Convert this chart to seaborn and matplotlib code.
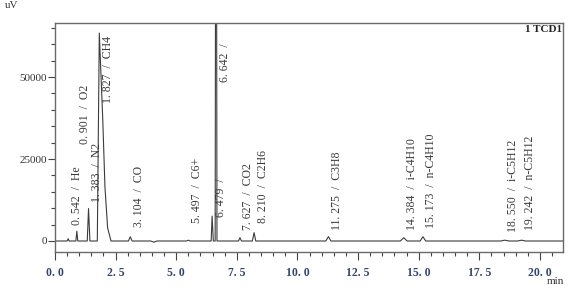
import matplotlib
matplotlib.use("Agg")
import matplotlib.pyplot as plt
import seaborn as sns
import pandas as pd
from matplotlib.ticker import MultipleLocator, FixedLocator

# ---- chromatogram trace (vertices) ----
trace_t = [0.00, 0.50, 0.542, 0.58, 0.86, 0.901, 0.94, 1.33, 1.383, 1.44,
           1.745, 1.827, 1.97, 2.06, 2.17, 2.31,
           3.03, 3.104, 3.18, 3.95, 4.08, 4.20,
           5.42, 5.497, 5.57, 6.44, 6.479, 6.53, 6.605, 6.642, 6.68,
           7.57, 7.627, 7.69, 8.14, 8.210, 8.28,
           11.17, 11.275, 11.38, 14.24, 14.384, 14.52, 15.06, 15.173, 15.29,
           18.38, 18.550, 18.72, 19.08, 19.242, 19.40, 21.0]
trace_uv = [0, 0, 700, 0, 0, 3000, 0, 0, 9900, 0,
            0, 63400, 36900, 16500, 4000, 0,
            0, 1300, 0, 0, -350, 0,
            0, 250, 0, 0, 7600, 0, 0, 200000, 0,
            0, 1000, 0, 0, 2550, 0,
            0, 1350, 0, 0, 1000, 0, 0, 1300, 0,
            0, 250, 0, 0, 250, 0, 0]

# ---- peak annotations ----
peak_rt = [0.542, 0.901, 1.383, 1.827, 3.104, 5.497, 6.479, 6.642,
           7.627, 8.210, 11.275, 14.384, 15.173, 18.550, 19.242]
peak_name = ["He", "O2", "N2", "CH4", "CO", "C6+", "", "",
             "CO2", "C2H6", "C3H8", "i-C4H10", "n-C4H10", "i-C5H12", "n-C5H12"]
label_base = [4900, 29600, 11900, 42100, 4300, 5500, 7300, 48500,
              3350, 5500, 3350, 3350, 4000, 2750, 3350]

x_ticks = [0.0, 2.5, 5.0, 7.5, 10.0, 12.5, 15.0, 17.5, 20.0]
x_ticklabels = ["0.0", "2.5", "5.0", "7.5", "10.0", "12.5", "15.0", "17.5", "20.0"]
y_ticks = [0, 25000, 50000]
y_ticklabels = ["0", "25000", "50000"]

sns.set_style("ticks")
plt.rcParams["font.family"] = ["Liberation Serif", "DejaVu Serif"]

W, H = 569, 291
fig = plt.figure(figsize=(W / 100, H / 100), dpi=100)
ax = fig.add_axes([55 / W, 1 - 252 / H, (563 - 55) / W, (252 - 22.5) / H])

df = pd.DataFrame({"t": trace_t, "uv": trace_uv})
sns.lineplot(data=df, x="t", y="uv", ax=ax, color="#3c3c3c", linewidth=0.8,
             estimator=None, sort=False)

ax.set_xlim(0, 20.95)
ax.set_ylim(-3354, 66620)

for rt, name, yb in zip(peak_rt, peak_name, label_base):
    txt = f"{rt:.3f}".replace(".", ". ") + "  /  " + name
    ax.text(rt + 0.35, yb, txt.rstrip(), rotation=90, ha="center", va="bottom",
            fontsize=8.5, color="#3a3a3a")

ax.xaxis.set_major_locator(FixedLocator(x_ticks))
ax.set_xticklabels([s.replace(".", ". ") for s in x_ticklabels])
ax.xaxis.set_minor_locator(MultipleLocator(0.5))
ax.yaxis.set_major_locator(FixedLocator(y_ticks))
ax.set_yticklabels(y_ticklabels)
ax.yaxis.set_minor_locator(MultipleLocator(5000))

ax.tick_params(axis="x", which="major", direction="out", length=6, width=0.8,
               color="#444", labelsize=8.5, labelcolor="#34466e", pad=5)
ax.tick_params(axis="x", which="minor", direction="out", length=3, width=0.8, color="#444")
ax.tick_params(axis="y", which="major", direction="out", length=5, width=0.8,
               color="#444", labelsize=8, labelcolor="#333333", pad=1)
ax.tick_params(axis="y", which="minor", direction="out", length=3, width=0.8, color="#444")
for lab in ax.get_xticklabels():
    lab.set_fontweight("bold")

for sp in ax.spines.values():
    sp.set_visible(True)
    sp.set_color("#6a6a6a")
    sp.set_linewidth(1.0)

ax.set_xlabel("")
ax.set_ylabel("")

fig.text(12 / W, 1 - 6 / H, "uV", ha="center", va="center", fontsize=8, color="#333")
fig.text(555 / W, 1 - 281 / H, "min", ha="center", va="center", fontsize=8, color="#333")
ax.text(0.998, 1 - (30 - 22.5) / (252 - 22.5), "1 TCD1", transform=ax.transAxes,
        ha="right", va="center", fontsize=8, color="#222", fontweight="bold")

fig.savefig("out.png", dpi=100)
